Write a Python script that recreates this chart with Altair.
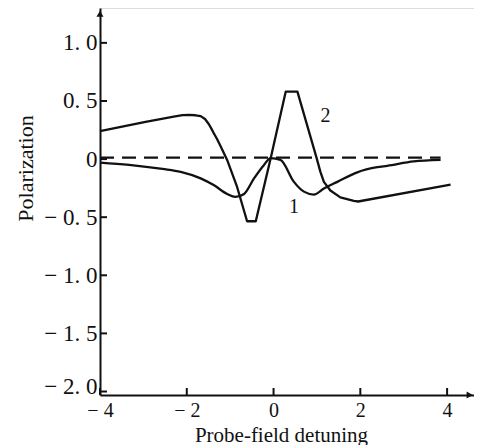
import altair as alt
import pandas as pd

# Curve 1 (smooth, small dips)
c1_x = [-4.0, -3.33, -2.56, -2.14, -1.68, -1.38, -1.07, -0.88, -0.68, -0.45, -0.22, -0.07,
        0.16, 0.47, 0.70, 0.93, 1.16, 1.47, 1.93, 2.39, 2.62, 3.23, 3.85]
c1_y = [-0.03, -0.05, -0.085, -0.11, -0.166, -0.224, -0.30, -0.326, -0.30, -0.166, -0.05, 0.008,
        -0.007, -0.196, -0.28, -0.305, -0.253, -0.196, -0.114, -0.07, -0.058, -0.02, -0.007]

# Curve 2 (large swing)
c2_x = [-4.0, -2.95, -2.3, -2.1, -1.95, -1.8, -1.68, -1.58, -1.49, -1.43, -1.38, -1.3, -1.22,
        -1.07, -0.84, -0.61, -0.41, -0.07, 0.28, 0.55, 0.99, 1.08, 1.16, 1.31, 1.54, 1.85,
        1.95, 4.08]
c2_y = [0.24, 0.32, 0.365, 0.378, 0.38, 0.377, 0.37, 0.345, 0.30, 0.26, 0.225, 0.17, 0.11,
        -0.007, -0.24, -0.535, -0.535, 0.0, 0.58, 0.58, 0.013, -0.11, -0.196, -0.27, -0.33, -0.36,
        -0.365, -0.22]

# Dashed reference line
dash_x = [-4.0, 3.85]
dash_y = [0.012, 0.012]

y_ticks = [-2.0, -1.5, -1.0, -0.5, 0.0, 0.5, 1.0]
y_tick_labels = ["\u2212 2. 0", "\u2212 1. 5", "\u2212 1. 0", "\u2212 0. 5", "0", "0. 5", "1. 0"]
x_ticks = [-4, -2, 0, 2, 4]
x_tick_labels = ["\u2212 4", "\u2212 2", "0", "2", "4"]

curve_labels = ["1", "2"]
curve_label_x = [0.47, 1.2]
curve_label_y = [-0.41, 0.37]

W, H = 374, 387
FONT = "Liberation Serif"


def label_expr(vals, labs):
    expr = "''"
    for v, l in zip(vals, labs):
        expr = f"abs(datum.value - ({v})) < 0.01 ? '{l}' : ({expr})"
    return expr


xscale = alt.Scale(domain=[-4, 4.62], nice=False, zero=False)
yscale = alt.Scale(domain=[-2.03, 1.3], nice=False, zero=False)

xaxis = alt.Axis(values=x_ticks, labelExpr=label_expr(x_ticks, x_tick_labels),
                 tickSize=0, grid=False, domainWidth=2, domainColor="#111",
                 labelFont=FONT, labelFontSize=20, labelColor="#111", labelPadding=5,
                 labelFlush=False, labelOverlap=False,
                 title="Probe-field detuning", titleFont=FONT, titleFontSize=21,
                 titleFontWeight="normal", titleColor="#111", titleX=181, titleY=46,
                 titleAlign="center", titleBaseline="alphabetic")
yaxis = alt.Axis(values=y_ticks, labelExpr=label_expr(y_ticks, y_tick_labels),
                 tickSize=0, grid=False, domainWidth=2, domainColor="#111",
                 labelFont=FONT, labelFontSize=23, labelColor="#111", labelPadding=3,
                 labelOffset={"condition": {"test": "datum.value < -1.9", "value": -5}, "value": 0},
                 labelFlush=False, labelOverlap=False,
                 title="Polarization", titleFont=FONT, titleFontSize=22,
                 titleFontWeight="normal", titleColor="#111", titleX=-75, titleY=160,
                 titleAngle=-90, titleAlign="center", titleBaseline="middle")

X = alt.X("x:Q", scale=xscale, axis=xaxis)
Y = alt.Y("y:Q", scale=yscale, axis=yaxis)

c1_df = pd.DataFrame({"x": c1_x, "y": c1_y})
c2_df = pd.DataFrame({"x": c2_x, "y": c2_y})
dash_df = pd.DataFrame({"x": dash_x, "y": dash_y})
lab_df = pd.DataFrame({"x": curve_label_x, "y": curve_label_y, "t": curve_labels})
ytick_df = pd.DataFrame({"y": y_ticks})
xtick_df = pd.DataFrame({"x": x_ticks})
arrow_up = pd.DataFrame({"x": [-4.0], "y": [1.25]})
arrow_right = pd.DataFrame({"x": [4.52], "y": [-2.03]})

line1 = alt.Chart(c1_df).mark_line(color="#111", strokeWidth=2.3, interpolate="monotone").encode(x=X, y=Y)
line2 = alt.Chart(c2_df).mark_line(color="#111", strokeWidth=2.3, interpolate="linear",
                                   strokeJoin="round").encode(x=X, y=Y)
dashed = alt.Chart(dash_df).mark_line(color="#111", strokeWidth=2.3, strokeDash=[14, 8]).encode(x=X, y=Y)
texts = alt.Chart(lab_df).mark_text(font=FONT, fontSize=20, color="#111").encode(x=X, y=Y, text="t:N")
yticks_l = alt.Chart(ytick_df).mark_rule(color="#111", strokeWidth=2).encode(
    y=Y, x=alt.value(0), x2=alt.value(7))
xticks_l = alt.Chart(xtick_df).mark_rule(color="#111", strokeWidth=2).encode(
    x=X, y=alt.value(H), y2=alt.value(H - 7))
a_up = alt.Chart(arrow_up).mark_point(shape="triangle-up", filled=True, size=50, color="#111", opacity=1).encode(x=X, y=Y)
a_right = alt.Chart(arrow_right).mark_point(shape="triangle-right", filled=True, size=50, color="#111", opacity=1).encode(x=X, y=Y)

chart = alt.layer(line1, line2, dashed, texts, yticks_l, xticks_l, a_up, a_right).properties(
    width=W, height=H,
    autosize=alt.AutoSizeParams(type="none"),
    padding={"left": 92, "top": 0, "right": 0, "bottom": 50},
).configure_view(stroke=None).configure(background="white")

chart.save("out.html", embed_options={"renderer": "svg", "actions": False})
